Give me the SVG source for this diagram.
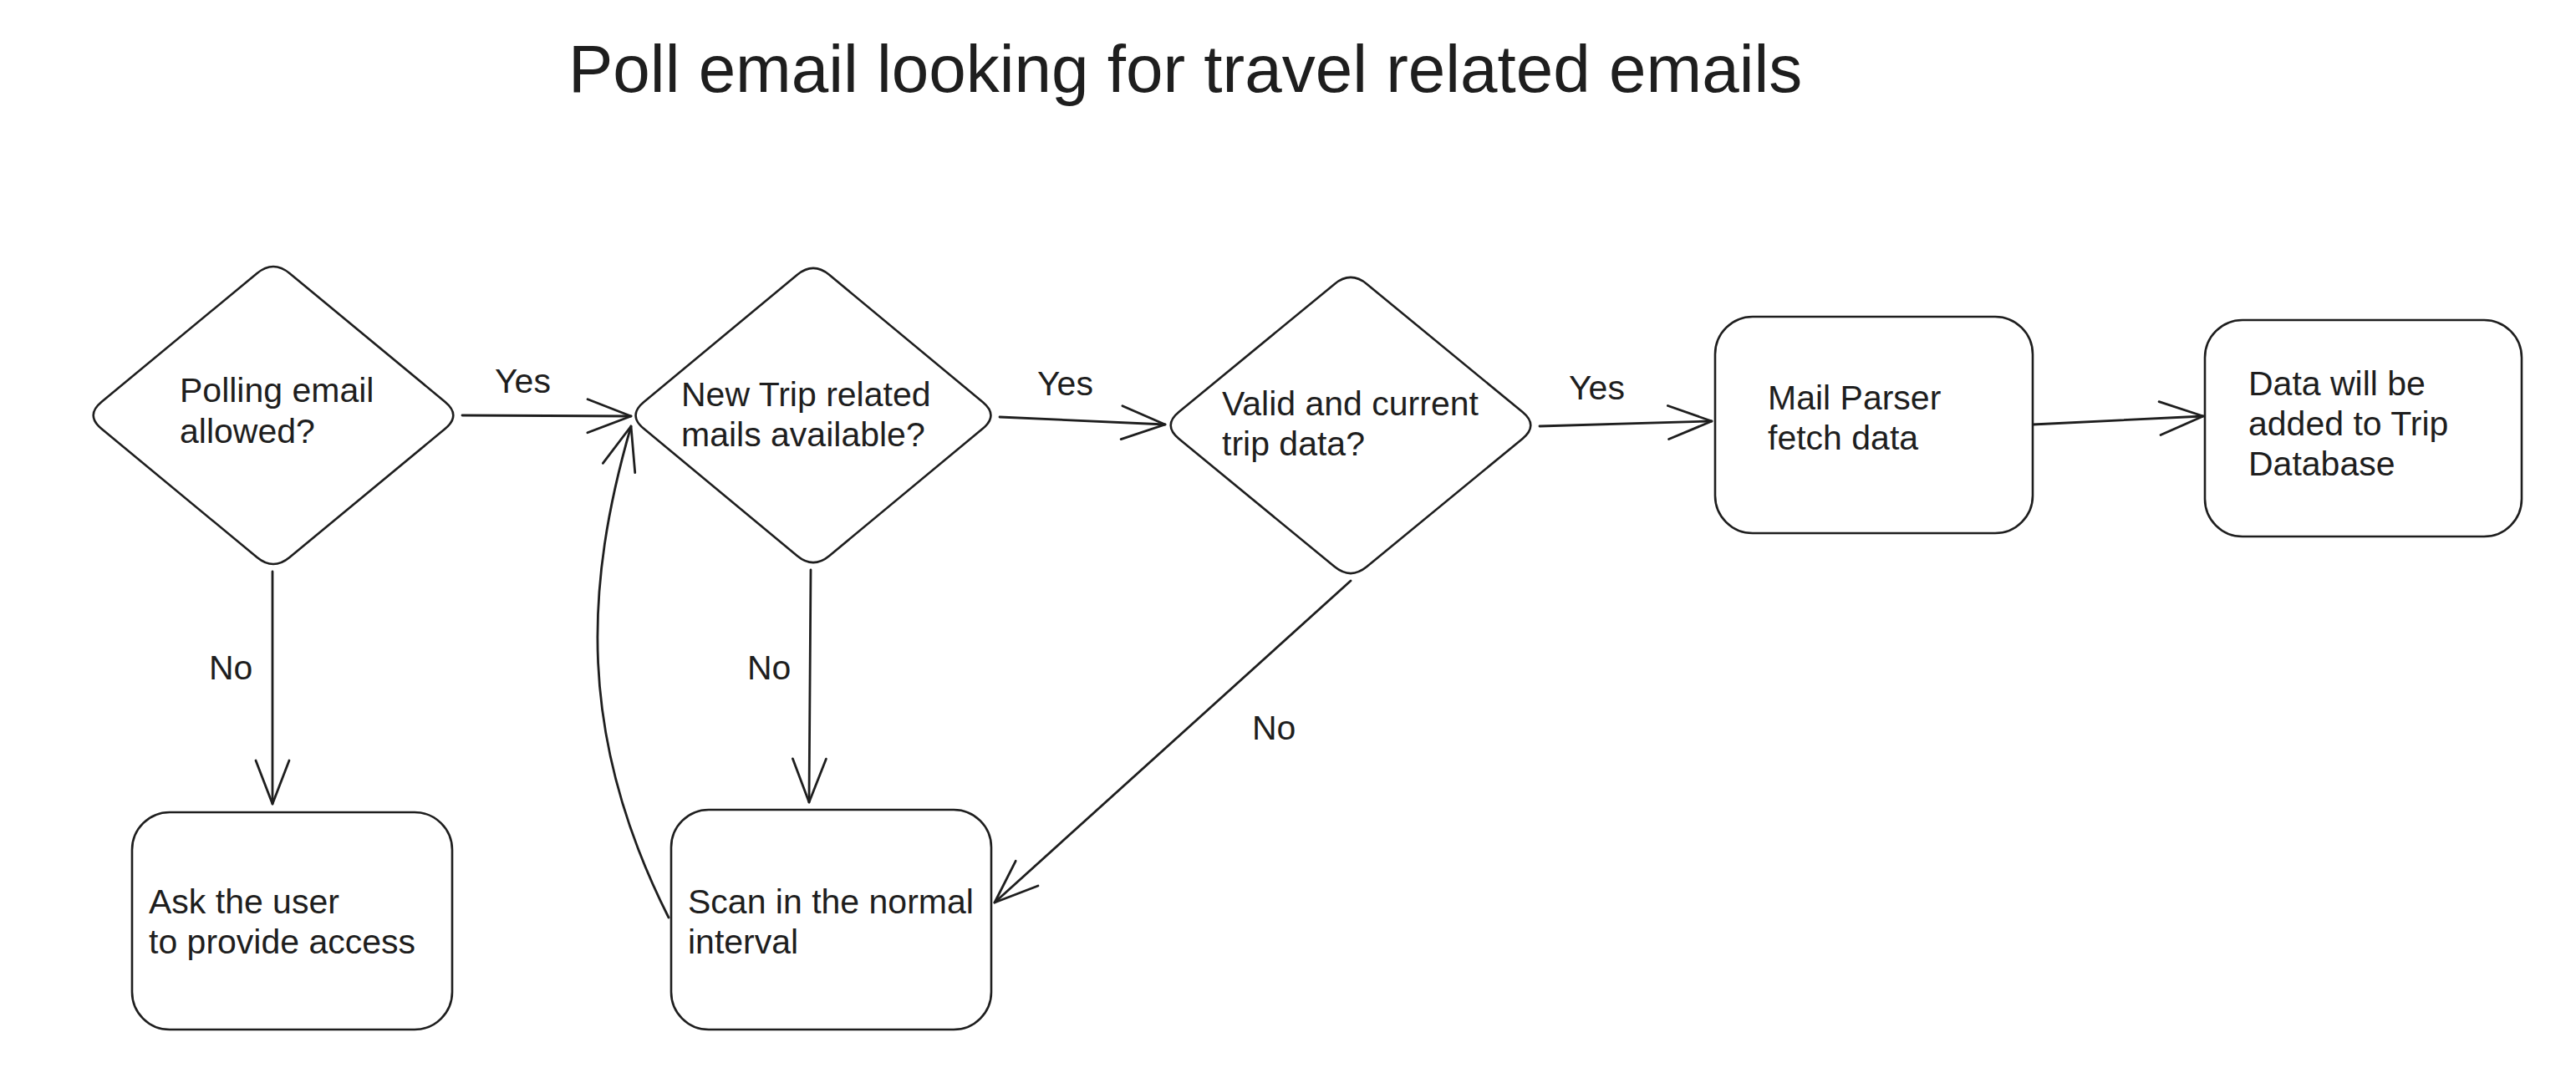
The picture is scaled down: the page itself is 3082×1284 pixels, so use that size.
<svg xmlns="http://www.w3.org/2000/svg" width="3082" height="1284" viewBox="0 0 3082 1284">
<style>
.shape{fill:#ffffff;stroke:#1e1e1e;stroke-width:2.6;stroke-linejoin:round}
.conn{fill:none;stroke:#1e1e1e;stroke-width:2.8;stroke-linecap:round}
.t{font-family:"Liberation Sans",Arial,sans-serif;font-size:41px;fill:#1e1e1e}
.title{font-family:"Liberation Sans",Arial,sans-serif;font-size:80px;fill:#1e1e1e}
</style>
<defs>
<marker id="arr" markerUnits="userSpaceOnUse" viewBox="-60 -26 64 52" refX="0" refY="0" markerWidth="64" markerHeight="52" orient="auto">
<path d="M -52 -20 L 0 0 L -52 20" fill="none" stroke="#1e1e1e" stroke-width="2.8" stroke-linecap="round" stroke-linejoin="round"/>
</marker>
</defs>
<rect width="3082" height="1284" fill="#ffffff"/>
<g id="title">
<text class="title" x="680" y="110">Poll email looking for travel related emails</text>
</g>
<g id="connectors">
<path class="conn" d="M 553 497 L 755 498" marker-end="url(#arr)"/>
<path class="conn" d="M 326 684 L 326 962" marker-end="url(#arr)"/>
<path class="conn" d="M 970 682 L 968 960" marker-end="url(#arr)"/>
<path class="conn" d="M 800 1098 C 690 880 700 700 755 510" marker-end="url(#arr)"/>
<path class="conn" d="M 1196 499 L 1394 508" marker-end="url(#arr)"/>
<path class="conn" d="M 1842 510 L 2048 504" marker-end="url(#arr)"/>
<path class="conn" d="M 2432 508 L 2636 498" marker-end="url(#arr)"/>
<path class="conn" d="M 1616 695 L 1190 1080" marker-end="url(#arr)"/>
<text class="t" x="592" y="470">Yes</text>
<text class="t" x="1241" y="473">Yes</text>
<text class="t" x="1877" y="478">Yes</text>
<text class="t" x="250" y="813">No</text>
<text class="t" x="894" y="813">No</text>
<text class="t" x="1498" y="885">No</text>
</g>
<g id="d1">
<path class="shape" d="M 307.6 327 Q 327 311 346.4 327 L 532.6 481 Q 552 497 532.6 513 L 346.4 667 Q 327 683 307.6 667 L 121.4 513 Q 102 497 121.4 481 Z"/>
<text class="t" x="215" y="481">Polling email</text>
<text class="t" x="215" y="530">allowed?</text>
</g>
<g id="d2">
<path class="shape" d="M 953.9 328.8 Q 973 313 992.1 328.8 L 1175.9 481.2 Q 1195 497 1175.9 512.8 L 992.1 665.2 Q 973 681 953.9 665.2 L 770.1 512.8 Q 751 497 770.1 481.2 Z"/>
<text class="t" x="815" y="486">New Trip related</text>
<text class="t" x="815" y="534">mails available?</text>
</g>
<g id="d3">
<path class="shape" d="M 1596.6 339.9 Q 1616 324 1635.4 339.9 L 1821.6 493.1 Q 1841 509 1821.6 524.9 L 1635.4 678.1 Q 1616 694 1596.6 678.1 L 1410.4 524.9 Q 1391 509 1410.4 493.1 Z"/>
<text class="t" x="1462" y="497">Valid and current</text>
<text class="t" x="1462" y="545">trip data?</text>
</g>
<g id="parser">
<rect class="shape" x="2052" y="379" width="380" height="259" rx="45"/>
<text class="t" x="2115" y="490">Mail Parser</text>
<text class="t" x="2115" y="538">fetch data</text>
</g>
<g id="database">
<rect class="shape" x="2638" y="383" width="379" height="259" rx="45"/>
<text class="t" x="2690" y="473">Data will be</text>
<text class="t" x="2690" y="521">added to Trip</text>
<text class="t" x="2690" y="569">Database</text>
</g>
<g id="ask">
<rect class="shape" x="158" y="972" width="383" height="260" rx="45"/>
<text class="t" x="178" y="1093">Ask the user</text>
<text class="t" x="178" y="1141">to provide access</text>
</g>
<g id="scan">
<rect class="shape" x="803" y="969" width="383" height="263" rx="45"/>
<text class="t" x="823" y="1093">Scan in the normal</text>
<text class="t" x="823" y="1141">interval</text>
</g>
</svg>
